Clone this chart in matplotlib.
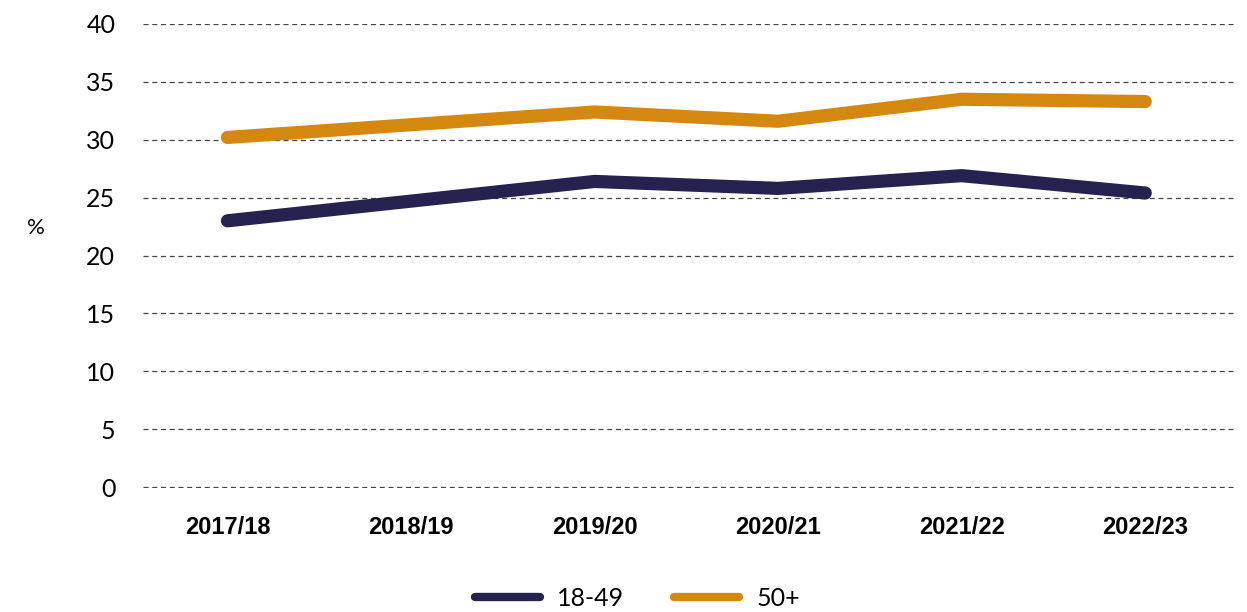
import numpy as np
import matplotlib
matplotlib.use('Agg')
import matplotlib.pyplot as plt

# données
years = ['2017/18', '2018/19', '2019/20', '2020/21', '2021/22', '2022/23']
young = [23.0, 24.7, 26.4, 25.8, 26.9, 25.4]   # 18-49
older = [30.2, 31.3, 32.4, 31.6, 33.5, 33.3]   # 50+

navy = '#252250'
orange = '#D4880F'

plt.rcParams['font.family'] = ['Lato', 'DejaVu Sans']

fig = plt.figure(figsize=(12.47, 6.12), dpi=100)
ax = fig.add_axes([0.1147, 0.2026, 0.8773, 0.7582])

x = np.arange(len(years))
ax.plot(x, young, color=navy, lw=9.5, solid_capstyle='round', solid_joinstyle='round', label='18-49')
ax.plot(x, older, color=orange, lw=9.5, solid_capstyle='round', solid_joinstyle='round', label='50+')

ax.set_ylim(-0.08, 40)
ax.set_xlim(-0.46, 5.5)
ax.set_yticks(range(0, 41, 5))
ax.yaxis.grid(True, linestyle=(0, (4, 3)), color='#444444', lw=0.9)
ax.set_axisbelow(True)
for s in ax.spines.values():
    s.set_visible(False)
ax.tick_params(axis='both', length=0)
ax.tick_params(axis='y', labelsize=18, pad=20)
ax.set_xticks(x)
ax.set_xticklabels(years, fontsize=17, fontweight='bold',
                   family=['Liberation Sans', 'DejaVu Sans'])
ax.tick_params(axis='x', pad=20)

fig.text(0.029, 0.627, '%', fontsize=16, ha='center', va='center')

leg = ax.legend(loc='upper center', bbox_to_anchor=(0.452, -0.165), ncol=2, frameon=False,
                fontsize=18, handlelength=2.6, handletextpad=0.7, columnspacing=2.0)
for ln in leg.get_lines():
    ln.set_linewidth(6)

plt.savefig('out.png', dpi=100)
